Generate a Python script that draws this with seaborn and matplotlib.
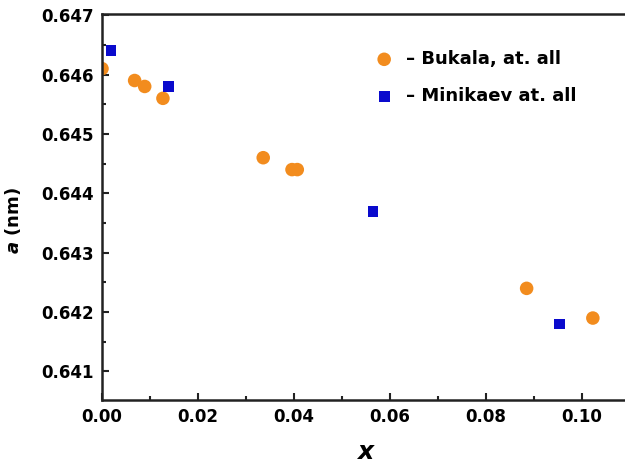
import matplotlib
matplotlib.use("Agg")
import matplotlib.pyplot as plt
from matplotlib.ticker import MultipleLocator, FormatStrFormatter
import seaborn as sns
import pandas as pd

bukala_x = [0.0, 0.0068, 0.0089, 0.0127, 0.0336, 0.0396, 0.0407, 0.0885, 0.1023]
bukala_a = [0.6461, 0.6459, 0.6458, 0.6456, 0.6446, 0.6444, 0.6444, 0.6424, 0.6419]
minikaev_x = [0.0019, 0.0138, 0.0565, 0.0954]
minikaev_a = [0.6464, 0.6458, 0.6437, 0.6418]
series_names = ["\u2013 Bukala, at. all", "\u2013 Minikaev at. all"]

df_b = pd.DataFrame({"x": bukala_x, "a": bukala_a})
df_m = pd.DataFrame({"x": minikaev_x, "a": minikaev_a})

sns.set_style("ticks")
plt.rcParams["font.family"] = ["DejaVu Sans"]
plt.rcParams["font.weight"] = "bold"
plt.rcParams["text.color"] = "black"
plt.rcParams["axes.labelcolor"] = "black"
plt.rcParams["xtick.color"] = "#222222"
plt.rcParams["ytick.color"] = "#222222"
plt.rcParams["xtick.labelcolor"] = "black"
plt.rcParams["ytick.labelcolor"] = "black"

fig = plt.figure(figsize=(6.25, 4.66), dpi=100)
ax = fig.add_axes([102/625, 1-400/466, 1-102/625, (400-14)/466])

sns.scatterplot(data=df_b, x="x", y="a", ax=ax, marker="o", s=95,
                color="#F28C1E", edgecolor="none", label=series_names[0])
sns.scatterplot(data=df_m, x="x", y="a", ax=ax, marker="s", s=60,
                color="#0A0ACD", edgecolor="none", label=series_names[1])

ax.set_xlim(0, 0.109)
ax.set_ylim(0.64052, 0.64702)
ax.xaxis.set_major_locator(MultipleLocator(0.02))
ax.xaxis.set_minor_locator(MultipleLocator(0.01))
ax.yaxis.set_major_locator(MultipleLocator(0.001))
ax.yaxis.set_minor_locator(MultipleLocator(0.0005))
ax.xaxis.set_major_formatter(FormatStrFormatter("%.2f"))
ax.yaxis.set_major_formatter(FormatStrFormatter("%.3f"))
ax.tick_params(which="major", direction="in", length=5, width=1.5, labelsize=12, pad=6)
ax.tick_params(which="minor", direction="in", length=3, width=1.5)
ax.tick_params(top=False, right=False)
for lab in ax.get_xticklabels() + ax.get_yticklabels():
    lab.set_fontweight("bold")

for sp in ["left", "bottom", "top"]:
    ax.spines[sp].set_linewidth(1.8)
    ax.spines[sp].set_color("#222222")
ax.spines["right"].set_visible(False)

ax.set_xlabel("x", fontsize=18, fontweight="bold", fontstyle="italic")
ax.set_ylabel(r"$\mathbfit{a}$ (nm)", fontsize=13, fontweight="bold")
ax.xaxis.set_label_coords((365-102)/523, -(440-400)/386)
ax.yaxis.set_label_coords(-(102-23)/523, (400-221)/386)

leg = ax.legend(loc="upper left", bbox_to_anchor=(0.505, 0.93), frameon=False,
                fontsize=13, handlelength=1.0, handletextpad=0.7, labelspacing=1.05,
                borderpad=0, markerscale=1.0)
for t in leg.get_texts():
    t.set_fontweight("bold")

fig.savefig("out.png", dpi=100)
